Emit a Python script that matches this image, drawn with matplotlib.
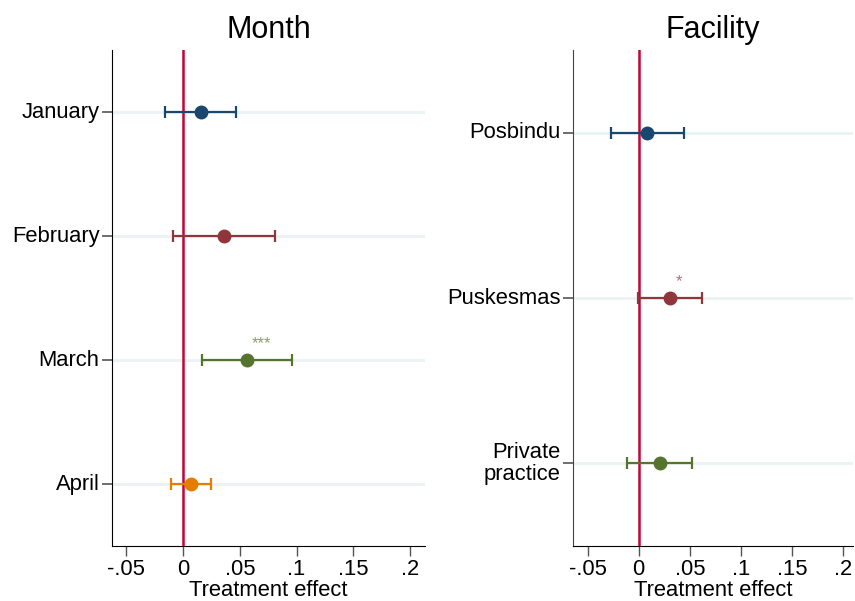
import matplotlib.pyplot as plt

plt.rcParams["font.family"] = ["Liberation Sans", "DejaVu Sans"]

# Panel 1: by month
months = ["January", "February", "March", "April"]
month_est = [0.0156, 0.036, 0.056, 0.0068]
month_lo = [-0.0158, -0.0088, 0.0165, -0.0106]
month_hi = [0.0467, 0.081, 0.0957, 0.0244]
month_stars = ["", "", "***", ""]

# Panel 2: by facility
facilities = ["Posbindu", "Puskesmas", "Private\npractice"]
fac_est = [0.0082, 0.0304, 0.0206]
fac_lo = [-0.0268, -0.0007, -0.011]
fac_hi = [0.0441, 0.0615, 0.0526]
fac_stars = ["", "*", ""]

colors = ["#1a476f", "#90353b", "#55752f", "#e37e00"]
xticks = [-0.05, 0, 0.05, 0.1, 0.15, 0.2]
xticklabels = ["-.05", "0", ".05", ".1", ".15", ".2"]

fig = plt.figure(figsize=(8.55, 6.01), dpi=100)
ax1 = fig.add_axes([0.131, 0.0915, 0.366, 0.825])
ax2 = fig.add_axes([0.670, 0.0915, 0.328, 0.825])


def panel(ax, labels, est, lo, hi, stars, title, xlim, spine_col):
    n = len(labels)
    pos = list(range(1, n + 1))
    for p in pos:
        ax.axhline(p, color="#eaf2f3", lw=2, zorder=0)
    ax.axvline(0, color="#c10534", lw=1.8, zorder=1)
    for i, p in enumerate(pos):
        c = colors[i]
        ax.errorbar(est[i], p, xerr=[[est[i] - lo[i]], [hi[i] - est[i]]],
                    fmt="o", color=c, ms=9, lw=1.6, capsize=4.6, capthick=1.6,
                    zorder=3)
        if stars[i]:
            ax.annotate(stars[i], (est[i], p), xytext=(4, 12),
                        textcoords="offset points", ha="left", va="center",
                        fontsize=12, color=c, alpha=0.7)
    ax.set_ylim(n + 0.5, 0.5)
    ax.set_xlim(*xlim)
    ax.set_yticks(pos)
    ax.set_yticklabels(labels, fontsize=15.8, ha="right", va="center",
                       linespacing=1.05)
    ax.set_xticks(xticks)
    ax.set_xticklabels(xticklabels, fontsize=15.8)
    ax.set_xlabel("Treatment effect", fontsize=15.8, labelpad=0)
    ax.set_title(title, fontsize=22, pad=9)
    ax.tick_params(axis="y", length=7, width=1.2, color="#555555", pad=2)
    ax.tick_params(axis="x", length=7, width=1, color="#555555", pad=2)
    ax.spines["top"].set_visible(False)
    ax.spines["right"].set_visible(False)
    ax.spines["left"].set_color(spine_col)
    ax.spines["bottom"].set_color("black")


panel(ax1, months, month_est, month_lo, month_hi, month_stars, "Month",
      (-0.0625, 0.213), "black")
panel(ax2, facilities, fac_est, fac_lo, fac_hi, fac_stars, "Facility",
      (-0.0644, 0.210), "#444444")

fig.savefig("out.png", dpi=100, facecolor="white")
